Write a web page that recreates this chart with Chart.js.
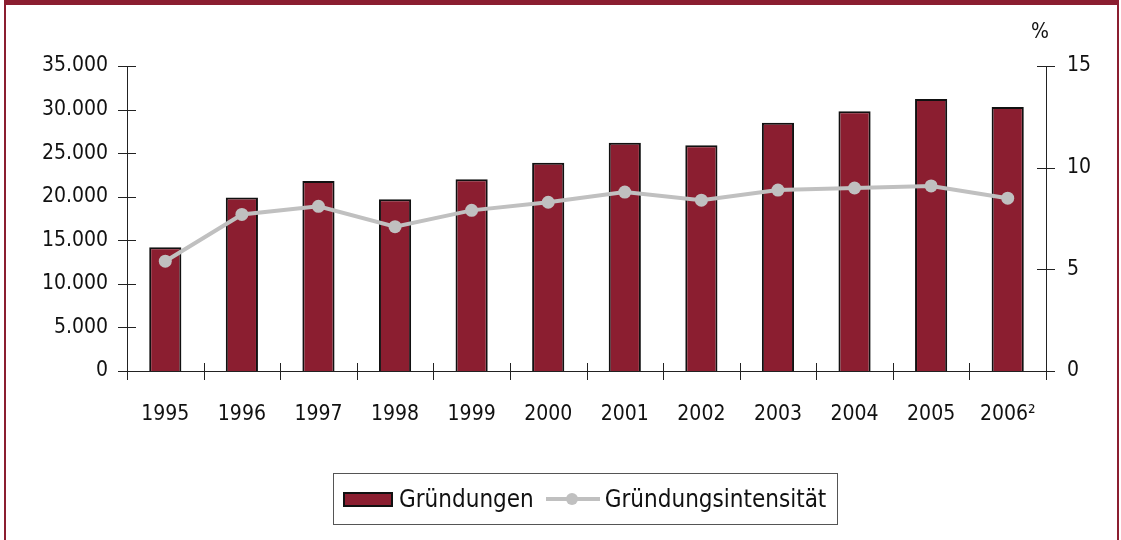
<!DOCTYPE html>
<html>
<head>
<meta charset="utf-8">
<script src="https://cdn.jsdelivr.net/npm/chart.js@4/dist/chart.umd.min.js"></script>
<style>
  body { margin: 0; background: #fff; font-family: "DejaVu Sans Condensed", "DejaVu Sans", sans-serif; }
  #wrap { position: relative; width: 1121px; height: 540px; overflow: hidden; }
  #frame { position: absolute; left: 4px; top: 0; width: 1111px; height: 560px;
           border-top: 5px solid #8B1E30; border-left: 2px solid #8B1E30; border-right: 2px solid #8B1E30;
           pointer-events: none; }
  canvas { position: absolute; left: 0; top: 0; }
  #pct { position: absolute; left: 1031px; top: 19px; font-size: 21px; color: #111; }
  #legend { position: absolute; left: 333px; top: 473px; width: 505px; height: 52px;
            border: 1px solid #555; box-sizing: border-box; display: flex; align-items: center;
            font-size: 24px; color: #111; }
  .sw-bar { display: inline-block; width: 46px; height: 11px; background: #8B1E30;
            border: 2px solid #111; margin-left: 9px; margin-right: 6px; }
  .sw-line { position: relative; display: inline-block; width: 54px; height: 14px; margin-left: 12px; margin-right: 5px; }
  .sw-line i { position: absolute; left: 0; right: 0; top: 5px; height: 4px; background: #c0c0c0; }
  .sw-line b { position: absolute; left: 20px; top: 1px; width: 12px; height: 12px; border-radius: 50%; background: #c0c0c0; }
</style>
</head>
<body>
<div id="wrap">
  <canvas id="chart" width="1121" height="540"></canvas>
  <div id="frame"></div>
  <div id="pct">%</div>
  <div id="legend">
    <span class="sw-bar"></span><span>Gründungen</span>
    <span class="sw-line"><i></i><b></b></span><span>Gründungsintensität</span>
  </div>
</div>
<script>
// data
const years = ['1995', '1996', '1997', '1998', '1999', '2000', '2001', '2002', '2003', '2004', '2005', '2006²'];
const gruendungen = [14200, 19900, 21800, 19700, 22000, 23900, 26200, 25900, 28500, 29800, 31200, 30300];
const intensitaet = [5.4, 7.7, 8.1, 7.1, 7.9, 8.3, 8.8, 8.4, 8.9, 9.0, 9.1, 8.5];
const leftTicks = [0, 5000, 10000, 15000, 20000, 25000, 30000, 35000];
const rightTicks = [0, 5, 10, 15];

const barColor = '#8B1E30';
const lineColor = '#c0c0c0';
const axisColor = '#222';
const fontFamily = '"DejaVu Sans Condensed", "DejaVu Sans", sans-serif';

// axis ticks that cross the axis lines, like the original
const crossTicks = {
    id: 'crossTicks',
    afterDraw(chart) {
        const ctx = chart.ctx;
        const xs = chart.scales.x, y = chart.scales.y, y1 = chart.scales.y1;
        const bottom = chart.chartArea.bottom;
        ctx.save();
        ctx.strokeStyle = axisColor;
        ctx.lineWidth = 1;
        ctx.beginPath();
        leftTicks.forEach(function(v) {
            const py = Math.round(y.getPixelForValue(v)) + 0.5;
            ctx.moveTo(y.right - 9, py);
            ctx.lineTo(y.right + 9, py);
        });
        rightTicks.forEach(function(v) {
            const py = Math.round(y1.getPixelForValue(v)) + 0.5;
            ctx.moveTo(y1.left - 9, py);
            ctx.lineTo(y1.left + 9, py);
        });
        const step = (xs.right - xs.left) / years.length;
        for (let i = 0; i <= years.length; i++) {
            const px = Math.round(xs.left + i * step) + 0.5;
            ctx.moveTo(px, bottom - 8);
            ctx.lineTo(px, bottom + 9);
        }
        ctx.stroke();
        ctx.restore();
    }
};

new Chart(document.getElementById('chart').getContext('2d'), {
    data: {
        labels: years,
        datasets: [{
            type: 'line',
            label: 'Gründungsintensität',
            data: intensitaet,
            yAxisID: 'y1',
            borderColor: lineColor,
            backgroundColor: lineColor,
            borderWidth: 4,
            pointRadius: 6.5,
            pointBorderWidth: 0,
            pointBackgroundColor: lineColor,
            tension: 0,
            order: 0
        }, {
            type: 'bar',
            label: 'Gründungen',
            data: gruendungen,
            yAxisID: 'y',
            backgroundColor: barColor,
            borderColor: '#111',
            borderWidth: 2,
            barPercentage: 0.42,
            categoryPercentage: 1,
            order: 1
        }]
    },
    options: {
        responsive: false,
        animation: false,
        layout: { padding: { top: 66, left: 0, right: 0, bottom: 0 } },
        plugins: { legend: { display: false }, tooltip: { enabled: false } },
        scales: {
            x: {
                offset: true,
                grid: { display: false, drawTicks: false },
                border: { display: true, color: axisColor, width: 1 },
                ticks: { color: '#111', padding: 31, font: { family: fontFamily, size: 21 }, maxRotation: 0 },
                afterFit: function(s) { s.height = 169; }
            },
            y: {
                position: 'left',
                min: 0, max: 35000,
                afterBuildTicks: function(s) { s.ticks = leftTicks.map(function(v) { return { value: v }; }); },
                grid: { display: false, drawTicks: false },
                border: { display: true, color: axisColor, width: 1 },
                ticks: {
                    color: '#111', padding: 19, font: { family: fontFamily, size: 21 },
                    callback: function(v) { return v === 0 ? '0' : v.toLocaleString('de-DE'); }
                },
                afterFit: function(s) { s.width = 127; }
            },
            y1: {
                position: 'right',
                min: 0, max: 15,
                afterBuildTicks: function(s) { s.ticks = rightTicks.map(function(v) { return { value: v }; }); },
                grid: { display: false, drawTicks: false },
                border: { display: true, color: axisColor, width: 1 },
                ticks: { color: '#111', padding: 21, font: { family: fontFamily, size: 21 } },
                afterFit: function(s) { s.width = 75; }
            }
        }
    },
    plugins: [crossTicks]
});
</script>
</body>
</html>
